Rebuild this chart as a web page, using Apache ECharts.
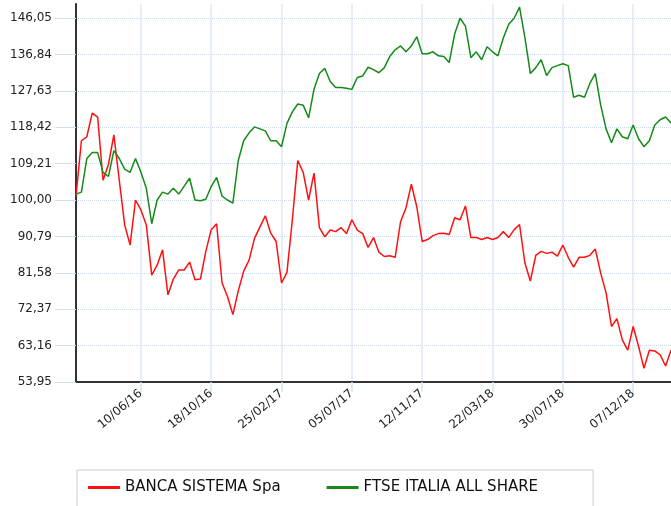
<!DOCTYPE html>
<html>
<head>
<meta charset="utf-8">
<script src="https://cdn.jsdelivr.net/npm/echarts@6/dist/echarts.min.js"></script>
<style>
  html, body { margin: 0; padding: 0; background: #fff; }
  #chart { width: 671px; height: 506px; }
</style>
</head>
<body>
<div id="chart"></div>
<script>
// date di campionamento (ogni 10 giorni)
const dates = [
  '11/02/16','21/02/16','02/03/16','12/03/16','22/03/16','01/04/16','11/04/16','21/04/16','01/05/16','11/05/16',
  '21/05/16','31/05/16','10/06/16','20/06/16','30/06/16','10/07/16','20/07/16','30/07/16','09/08/16','19/08/16',
  '29/08/16','08/09/16','18/09/16','28/09/16','08/10/16','18/10/16','28/10/16','07/11/16','17/11/16','27/11/16',
  '07/12/16','17/12/16','27/12/16','06/01/17','16/01/17','26/01/17','05/02/17','15/02/17','25/02/17','07/03/17',
  '17/03/17','27/03/17','06/04/17','16/04/17','26/04/17','06/05/17','16/05/17','26/05/17','05/06/17','15/06/17',
  '25/06/17','05/07/17','15/07/17','25/07/17','04/08/17','14/08/17','24/08/17','03/09/17','13/09/17','23/09/17',
  '03/10/17','13/10/17','23/10/17','02/11/17','12/11/17','22/11/17','02/12/17','12/12/17','22/12/17','01/01/18',
  '11/01/18','21/01/18','31/01/18','10/02/18','20/02/18','02/03/18','12/03/18','22/03/18','01/04/18','11/04/18',
  '21/04/18','01/05/18','11/05/18','21/05/18','31/05/18','10/06/18','20/06/18','30/06/18','10/07/18','20/07/18',
  '30/07/18','09/08/18','19/08/18','29/08/18','08/09/18','18/09/18','28/09/18','08/10/18','18/10/18','28/10/18',
  '07/11/18','17/11/18','27/11/18','07/12/18','17/12/18','27/12/18','06/01/19','16/01/19','26/01/19','05/02/19',
  '15/02/19'
];

// BANCA SISTEMA Spa (base 100)
const banca = [
  101, 115, 116, 122, 121, 105, 109, 116.5, 105, 93.7,
  88.6, 100, 97.5, 93.7, 81, 83.5, 87.4, 76, 80, 82.3,
  82.3, 84.3, 79.8, 80, 87, 92.5, 94, 79, 75.6, 71,
  77, 82, 84.8, 90.3, 93.2, 96, 91.6, 89.5, 79, 81.7,
  95, 110, 107, 100, 106.8, 93, 90.7, 92.4, 92, 93,
  91.5, 95, 92.4, 91.5, 88, 90.5, 86.8, 85.7, 85.9, 85.5,
  94.5, 98, 104, 98.3, 89.5, 90, 91, 91.5, 91.6, 91.3,
  95.5, 95, 98.5, 90.5, 90.5, 90, 90.5, 90, 90.5, 92,
  90.5, 92.5, 93.8, 84, 79.5, 86, 87, 86.5, 86.8, 85.8,
  88.6, 85.5, 83, 85.5, 85.5, 86, 87.6, 81.5, 76.5, 68,
  70, 64.6, 62, 68, 63, 57.4, 62, 61.8, 60.8, 58,
  62
];

// FTSE ITALIA ALL SHARE (base 100)
const ftse = [
  101.5, 102, 110.5, 112, 112, 107, 106, 112.5, 110.5, 107.8,
  107, 110.5, 107, 103, 94, 100, 102, 101.5, 103, 101.5,
  103.5, 105.5, 100, 99.8, 100.2, 103.4, 105.7, 101, 100, 99.2,
  110, 115, 117, 118.5, 118, 117.5, 115, 115, 113.5, 119.4,
  122.3, 124.3, 124, 120.8, 128, 132, 133.3, 130, 128.5, 128.5,
  128.3, 128, 131, 131.4, 133.6, 133, 132.2, 133.5, 136.3, 138,
  139, 137.5, 139, 141.3, 137, 137, 137.5, 136.5, 136.3, 134.8,
  142, 146, 144, 136, 137.5, 135.5, 138.8, 137.5, 136.5, 141,
  144.5, 146, 148.8, 141, 132, 133.5, 135.5, 131.5, 133.5, 134,
  134.5, 134, 126, 126.5, 126, 129.5, 132, 124, 118, 114.5,
  118, 116, 115.5, 119, 115.5, 113.5, 115, 119, 120.3, 121,
  119.5
];

const xTickLabels = ['10/06/16', '18/10/16', '25/02/17', '05/07/17', '12/11/17', '22/03/18', '30/07/18', '07/12/18'];
const yTicks = [53.95, 63.16, 72.37, 81.58, 90.79, 100.00, 109.21, 118.42, 127.63, 136.84, 146.05];

const font = 'DejaVu Sans';
const isTick = (idx, val) => xTickLabels.includes(val);

const chart = echarts.init(document.getElementById('chart'));
chart.setOption({
  animation: false,
  grid: { left: 76, top: 4, width: 598, bottom: 124 },
  legend: {
    data: ['BANCA SISTEMA Spa', 'FTSE ITALIA ALL SHARE'],
    left: 77,
    top: 470,
    padding: [10, 55, 14, 11],
    borderColor: '#cccccc',
    borderWidth: 1,
    icon: 'rect',
    itemWidth: 32,
    itemHeight: 3,
    itemGap: 46,
    textStyle: { fontFamily: font, fontSize: 15, color: '#111' }
  },
  xAxis: {
    type: 'category',
    boundaryGap: false,
    data: dates,
    axisLine: { lineStyle: { color: '#333', width: 2 } },
    axisTick: { show: true, interval: isTick, length: 10, lineStyle: { color: '#d6e5f6', width: 1.5 } },
    axisLabel: {
      interval: isTick,
      rotate: 40,
      margin: 10,
      color: '#222',
      fontFamily: font,
      fontSize: 12
    },
    splitLine: { show: true, interval: isTick, lineStyle: { color: '#dce9f7', width: 1.5 } }
  },
  yAxis: {
    type: 'value',
    min: 53.95,
    max: 149.6,
    axisLine: { show: true, lineStyle: { color: '#333', width: 2 } },
    axisTick: { show: true, length: 21, customValues: yTicks, lineStyle: { color: '#cfe0f3' } },
    axisLabel: {
      customValues: yTicks,
      margin: 24,
      color: '#222',
      fontFamily: font,
      fontSize: 12,
      formatter: v => v.toFixed(2).replace('.', ',')
    },
    splitLine: { show: true, lineStyle: { color: '#c6daf1', type: 'dotted' } }
  },
  series: [
    {
      name: 'BANCA SISTEMA Spa',
      type: 'line',
      data: banca,
      symbol: 'none',
      itemStyle: { color: '#ff1010' },
      lineStyle: { color: '#ff1010', width: 1.5 }
    },
    {
      name: 'FTSE ITALIA ALL SHARE',
      type: 'line',
      data: ftse,
      symbol: 'none',
      itemStyle: { color: '#168a16' },
      lineStyle: { color: '#168a16', width: 1.5 }
    }
  ]
});
</script>
</body>
</html>
